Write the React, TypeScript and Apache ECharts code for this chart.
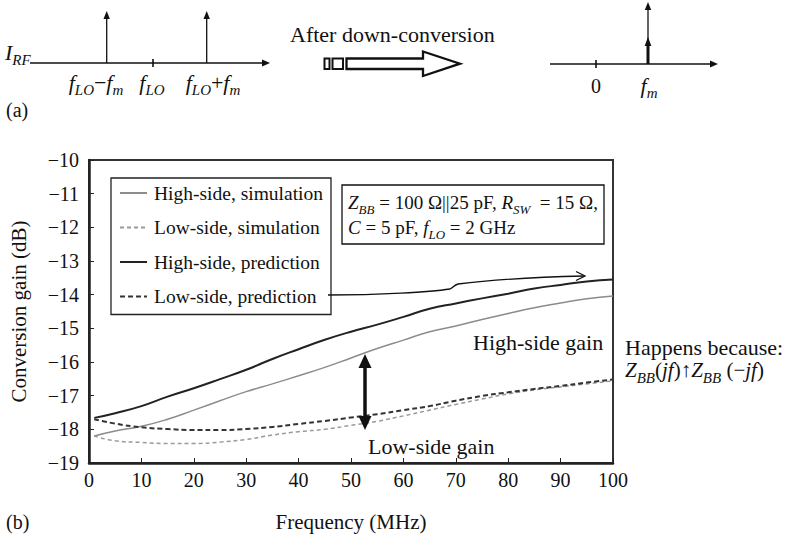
import React, { useEffect, useRef } from "react";
import * as echarts from "echarts";

const freq = [1, 5, 10, 15, 20, 25, 30, 35, 40, 45, 50, 55, 60, 65, 70, 75, 80, 85, 90, 95, 100];
const highSim = [-18.2, -18.05, -17.91, -17.7, -17.43, -17.15, -16.88, -16.65, -16.41, -16.16, -15.88, -15.6, -15.35, -15.1, -14.93, -14.74, -14.56, -14.39, -14.25, -14.12, -14.04];
const lowSim = [-18.2, -18.34, -18.39, -18.42, -18.42, -18.38, -18.3, -18.17, -18.07, -18.0, -17.88, -17.76, -17.6, -17.43, -17.26, -17.1, -16.95, -16.83, -16.74, -16.65, -16.56];
const highPred = [-17.66, -17.52, -17.31, -17.03, -16.78, -16.51, -16.23, -15.91, -15.62, -15.34, -15.1, -14.89, -14.66, -14.42, -14.26, -14.11, -13.97, -13.82, -13.71, -13.61, -13.55];
const lowPred = [-17.7, -17.83, -17.94, -17.99, -18.02, -18.02, -17.99, -17.93, -17.84, -17.75, -17.65, -17.55, -17.43, -17.31, -17.15, -17.01, -16.9, -16.8, -16.71, -16.61, -16.52];
const seriesNames = ["High-side, simulation", "Low-side, simulation", "High-side, prediction", "Low-side, prediction"];
const xRange = [0, 100, 10];
const yRange = [-19, -10, 1];

const FONT = "'Liberation Serif', 'DejaVu Serif', serif";

const pairs = (ys: number[]) => freq.map((f, i) => [f, ys[i]]);

const mkRich = (main: number, sub: number, drop: number) => ({
  i: { fontSize: main, fontStyle: "italic", fontFamily: FONT, fill: "#111" },
  s: { fontSize: sub, fontStyle: "italic", fontFamily: FONT, fill: "#111", lineHeight: drop, height: drop, verticalAlign: "bottom" },
  n: { fontSize: main, fontFamily: FONT, fill: "#111" },
});

export default function App() {
  const ref = useRef<HTMLDivElement>(null);
  useEffect(() => {
    if (!ref.current) return;
    echarts.graphic.registerShape(
      "connector",
      echarts.graphic.extendPath(
        "M328 295 C 380 295, 430 292, 450 289 C 453 288, 454 285, 458 284 C 490 280, 540 277, 584 276",
        {}
      )
    );
    const chart = echarts.init(ref.current, null, { renderer: "svg" });
    const richA = mkRich(22, 15, 6);
    const richBox = mkRich(19, 13, 4);
    const richZ = mkRich(21, 15, 6);
    const txt = (x: number, y: number, text: string, opts: any = {}) => ({
      type: "text",
      x,
      y,
      z: 50,
      style: {
        text,
        font: `${opts.size || 22}px ${FONT}`,
        fill: "#111",
        textAlign: opts.align || "left",
        textVerticalAlign: "middle",
        rich: opts.rich,
      },
    });
    const line = (x1: number, y1: number, x2: number, y2: number, w = 1.3) => ({
      type: "line",
      z: 50,
      shape: { x1, y1, x2, y2 },
      style: { stroke: "#111", lineWidth: w },
    });
    const tri = (pts: number[][]) => ({ type: "polygon", z: 50, shape: { points: pts }, style: { fill: "#111" } });

    const graphics: any[] = [
      // (a) left spectrum
      txt(5, 52, "{i|I}{s|RF}", { rich: richA }),
      line(30, 63, 263, 63),
      tri([[262, 59.5], [270, 63], [262, 66.5]]),
      line(106.7, 63, 106.7, 17),
      tri([[103.5, 19], [106.7, 11], [109.9, 19]]),
      line(206.7, 63, 206.7, 17),
      tri([[203.5, 19], [206.7, 11], [209.9, 19]]),
      line(153, 59, 153, 67, 1.6),
      txt(96, 82, "{i|f}{s|LO}{n|−}{i|f}{s|m}", { rich: richA, align: "center" }),
      txt(152, 82, "{i|f}{s|LO}", { rich: richA, align: "center" }),
      txt(213, 82, "{i|f}{s|LO}{n|+}{i|f}{s|m}", { rich: richA, align: "center" }),
      txt(6, 110, "(a)", { size: 20 }),
      // middle arrow
      txt(290, 34, "After down-conversion", { size: 22 }),
      { type: "rect", z: 50, shape: { x: 324.5, y: 58.5, width: 5, height: 10.5 }, style: { fill: "#fff", stroke: "#111", lineWidth: 2 } },
      { type: "rect", z: 50, shape: { x: 332.5, y: 58.5, width: 10.5, height: 10.5 }, style: { fill: "#fff", stroke: "#111", lineWidth: 2 } },
      {
        type: "polygon",
        z: 50,
        shape: { points: [[346.5, 58.5], [423, 58.5], [423, 51.5], [460, 63.7], [423, 76], [423, 69], [346.5, 69]] },
        style: { fill: "#fff", stroke: "#111", lineWidth: 2.3 },
      },
      // right spectrum
      line(550, 64, 711, 64),
      tri([[710, 60.5], [718, 64], [710, 67.5]]),
      line(596, 60, 596, 68, 1.6),
      txt(596, 86, "0", { size: 20, align: "center" }),
      line(648, 64, 648, 8),
      tri([[644.8, 10], [648, 2], [651.2, 10]]),
      line(648, 64, 648, 44, 3),
      tri([[644.6, 46], [648, 37], [651.4, 46]]),
      txt(649, 85, "{i|f}{s|m}", { rich: richA, align: "center" }),
      // (b) annotations
      txt(6, 522, "(b)", { size: 20 }),
      { type: "rect", z: 50, shape: { x: 342, y: 185, width: 262, height: 59 }, style: { fill: "#fff", stroke: "#111", lineWidth: 1.3 } },
      txt(348, 202, "{i|Z}{s|BB}{n| = 100 Ω||25 pF, }{i|R}{s|SW}{n|  = 15 Ω,}", { rich: richBox }),
      txt(348, 227, "{i|C}{n| = 5 pF, }{i|f}{s|LO}{n| = 2 GHz}", { rich: richBox }),
      { type: "connector", z: 50, x: 0, y: 0, scaleX: 1, scaleY: 1, style: { stroke: "#111", lineWidth: 1.3, fill: "none" } },
      { type: "polyline", z: 50, shape: { points: [[576, 271.5], [585, 276], [576, 280.5]] }, style: { stroke: "#111", lineWidth: 1.3, fill: "none" } },
      line(365, 363, 365, 421, 3.5),
      tri([[365, 354], [358.5, 368], [371.5, 368]]),
      tri([[365, 430], [358.5, 416], [371.5, 416]]),
      txt(473, 342, "High-side gain", { size: 22 }),
      txt(368, 446, "Low-side gain", { size: 22 }),
      txt(625, 347, "Happens because:", { size: 22 }),
      txt(625, 370, "{i|Z}{s|BB}{n|(}{i|jf}{n|)↑}{i|Z}{s|BB}{n| (−}{i|jf}{n|)}", { rich: richZ }),
    ];

    const lineStyles = [
      { color: "#8c8c8c", width: 1.5, type: "solid" },
      { color: "#9a9a9a", width: 1.5, type: [4, 3] },
      { color: "#222", width: 2, type: "solid" },
      { color: "#333", width: 2, type: [5, 3] },
    ];
    const datasets = [highSim, lowSim, highPred, lowPred];

    chart.setOption({
      animation: false,
      backgroundColor: "#fff",
      textStyle: { fontFamily: FONT },
      grid: { left: 88, right: 172, top: 160, bottom: 65, show: true, borderColor: "#333", borderWidth: 2 },
      legend: {
        orient: "vertical",
        left: 111,
        top: 178,
        padding: [4, 8, 7, 8],
        itemGap: 12.5,
        itemWidth: 27,
        itemHeight: 14,
        borderColor: "#222",
        borderWidth: 1.3,
        backgroundColor: "#fff",
        itemStyle: { opacity: 0 },
        textStyle: { fontFamily: FONT, fontSize: 19.5, color: "#111", lineHeight: 22, padding: [0, 0, 0, 2] },
        data: seriesNames,
      },
      xAxis: {
        type: "value",
        min: xRange[0],
        max: xRange[1],
        interval: xRange[2],
        name: "Frequency (MHz)",
        nameLocation: "middle",
        nameGap: 48,
        nameTextStyle: { fontFamily: FONT, fontSize: 21, color: "#111" },
        axisLine: { lineStyle: { color: "#222", width: 2.5 } },
        axisTick: { inside: true, length: 5, lineStyle: { color: "#222", width: 1 } },
        axisLabel: { fontFamily: FONT, fontSize: 20, color: "#111", margin: 7 },
        splitLine: { show: false },
      },
      yAxis: {
        type: "value",
        min: yRange[0],
        max: yRange[1],
        interval: yRange[2],
        name: "Conversion gain (dB)",
        nameLocation: "middle",
        nameGap: 60,
        nameTextStyle: { fontFamily: FONT, fontSize: 21, color: "#111" },
        axisLine: { show: true, lineStyle: { color: "#222", width: 2.5 } },
        axisTick: { show: true, inside: true, length: 5, lineStyle: { color: "#222", width: 1 } },
        axisLabel: {
          fontFamily: FONT,
          fontSize: 20,
          color: "#111",
          margin: 10,
          formatter: (v: number) => (v < 0 ? "−" + Math.abs(v) : String(v)),
        },
        splitLine: { show: false },
      },
      series: seriesNames.map((name, i) => ({
        name,
        type: "line",
        data: pairs(datasets[i]),
        smooth: true,
        symbol: "none",
        lineStyle: lineStyles[i],
        itemStyle: { color: lineStyles[i].color },
        z: i >= 2 ? 3 : 2,
      })),
      graphic: graphics,
    });
    return () => chart.dispose();
  }, []);
  return <div ref={ref} style={{ position: "fixed", left: 0, top: 0, width: 785, height: 537 }} />;
}
